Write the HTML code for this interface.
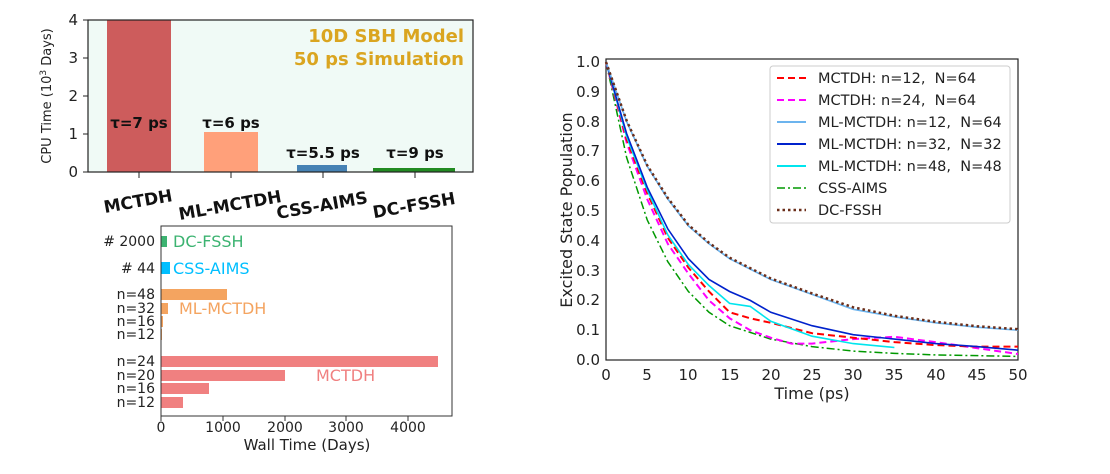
<!DOCTYPE html>
<html><head><meta charset="utf-8"><style>
body{margin:0;background:#fff;}
svg text{font-family:"DejaVu Sans","Liberation Sans",sans-serif;}
</style></head><body>
<svg width="1110" height="469" viewBox="0 0 1110 469" xmlns="http://www.w3.org/2000/svg">
<rect width="1110" height="469" fill="#fff"/>
<!-- Top bar chart -->
<rect x="88" y="20" width="385" height="152" fill="#f0faf6"/>
<rect x="107" y="20" width="64" height="152" fill="#cd5c5c"/>
<rect x="204" y="132" width="54" height="40" fill="#ffa07a"/>
<rect x="297" y="165" width="50" height="7" fill="#4682b4"/>
<rect x="373" y="168" width="82" height="4" fill="#228b22"/>
<rect x="88" y="20" width="385" height="152" fill="none" stroke="#222" stroke-width="1.2"/>
<g font-size="15" fill="#222" text-anchor="end">
<text x="78" y="177">0</text><text x="78" y="139">1</text><text x="78" y="101">2</text><text x="78" y="63">3</text><text x="78" y="25">4</text></g>
<g stroke="#222"><line x1="83" y1="172" x2="88" y2="172"/><line x1="83" y1="134" x2="88" y2="134"/><line x1="83" y1="96" x2="88" y2="96"/><line x1="83" y1="58" x2="88" y2="58"/><line x1="83" y1="20" x2="88" y2="20"/>
<line x1="139" y1="172" x2="139" y2="178"/><line x1="231" y1="172" x2="231" y2="178"/><line x1="323" y1="172" x2="323" y2="178"/><line x1="415" y1="172" x2="415" y2="178"/></g>
<text transform="translate(51,96) rotate(-90)" font-size="13" fill="#222" text-anchor="middle">CPU Time (10<tspan font-size="9" dy="-5">3</tspan><tspan dy="5"> Days)</tspan></text>
<g font-size="18" font-weight="bold" fill="#daa520" text-anchor="end"><text x="464" y="42">10D SBH Model</text><text x="464" y="65">50 ps Simulation</text></g>
<g font-size="15" font-weight="bold" fill="#111" text-anchor="middle">
<text x="139" y="128">τ=7 ps</text><text x="231" y="128">τ=6 ps</text><text x="323" y="158">τ=5.5 ps</text><text x="415" y="158">τ=9 ps</text></g>
<g font-size="17" font-weight="bold" fill="#111" text-anchor="middle">
<text transform="translate(139,207) rotate(-10)">MCTDH</text>
<text transform="translate(231,211) rotate(-10)">ML-MCTDH</text>
<text transform="translate(323,211) rotate(-10)">CSS-AIMS</text>
<text transform="translate(415,211) rotate(-10)">DC-FSSH</text></g>
<!-- Bottom horizontal bars -->
<rect x="161" y="236" width="6" height="11" fill="#3cb371"/>
<rect x="161" y="262" width="9" height="12" fill="#00bfff"/>
<rect x="161" y="289" width="66" height="11" fill="#f4a460"/>
<rect x="161" y="303" width="7" height="11" fill="#f4a460"/>
<rect x="161" y="316" width="2" height="11" fill="#f4a460"/>
<rect x="161" y="329" width="1" height="11" fill="#f4a460"/>
<rect x="161" y="356" width="277" height="11" fill="#f08080"/>
<rect x="161" y="370" width="124" height="11" fill="#f08080"/>
<rect x="161" y="383" width="48" height="11" fill="#f08080"/>
<rect x="161" y="397" width="22" height="11" fill="#f08080"/>
<rect x="161" y="226" width="291" height="190" fill="none" stroke="#333" stroke-width="1"/>
<g font-size="16"><text x="173" y="247" fill="#3cb371">DC-FSSH</text><text x="173" y="274" fill="#00bfff">CSS-AIMS</text><text x="179" y="314" fill="#f4a460">ML-MCTDH</text><text x="316" y="381" fill="#f08080">MCTDH</text></g>
<g font-size="14" fill="#222" text-anchor="end">
<text x="155" y="246"># 2000</text><text x="155" y="273"># 44</text>
<text x="155" y="299">n=48</text><text x="155" y="313">n=32</text><text x="155" y="326">n=16</text><text x="155" y="339">n=12</text>
<text x="155" y="366">n=24</text><text x="155" y="380">n=20</text><text x="155" y="393">n=16</text><text x="155" y="407">n=12</text></g>
<g font-size="14" fill="#222" text-anchor="middle"><text x="161" y="432">0</text><text x="223" y="432">1000</text><text x="285" y="432">2000</text><text x="346" y="432">3000</text><text x="408" y="432">4000</text>
<text x="307" y="450" font-size="15">Wall Time (Days)</text></g>
<g stroke="#333"><line x1="161" y1="416" x2="161" y2="421"/><line x1="223" y1="416" x2="223" y2="421"/><line x1="285" y1="416" x2="285" y2="421"/><line x1="346" y1="416" x2="346" y2="421"/><line x1="408" y1="416" x2="408" y2="421"/></g>
<!-- Right line chart -->
<rect x="606" y="59" width="412" height="301" fill="none" stroke="#222" stroke-width="1.2"/>
<g font-size="15" fill="#222" text-anchor="end">
<text x="600" y="365">0.0</text><text x="600" y="335">0.1</text><text x="600" y="305">0.2</text><text x="600" y="276">0.3</text><text x="600" y="246">0.4</text><text x="600" y="216">0.5</text><text x="600" y="186">0.6</text><text x="600" y="156">0.7</text><text x="600" y="127">0.8</text><text x="600" y="97">0.9</text><text x="600" y="67">1.0</text></g>
<g font-size="15" fill="#222" text-anchor="middle">
<text x="606" y="380">0</text><text x="647" y="380">5</text><text x="688" y="380">10</text><text x="730" y="380">15</text><text x="771" y="380">20</text><text x="812" y="380">25</text><text x="853" y="380">30</text><text x="894" y="380">35</text><text x="936" y="380">40</text><text x="977" y="380">45</text><text x="1018" y="380">50</text>
<text x="812" y="399" font-size="16">Time (ps)</text></g>
<text transform="translate(572,210) rotate(-90)" font-size="16" fill="#222" text-anchor="middle">Excited State Population</text>
<g fill="none" stroke-width="2">
<polyline stroke="#009900" stroke-width="1.5" stroke-dasharray="8,3,2,3" points="606,62 626.6,157.4 647.2,219.9 667.8,261.7 688.4,291.5 709,312.3 729.6,325.7 770.8,339.1 812,346.6 853.2,351.1 894.4,353.4 935.6,354.9 1018,356.4"/>
<polyline stroke="#ff00ff" stroke-dasharray="7,4" points="606,62 626.6,142.5 647.2,199.1 667.8,243.8 688.4,273.6 709,300.4 729.6,318.3 750.2,330.2 770.8,337.7 791.4,343.6 812,343.6 853.2,339.1 894.4,336.8 935.6,342.1 976.8,348.1 1018,354"/>
<polyline stroke="#ff0000" stroke-dasharray="7,4" points="606,62 626.6,139.5 647.2,193.1 667.8,237.8 688.4,267.6 709,291.5 729.6,312.3 750.2,318.3 770.8,322.8 812,333.2 853.2,337.7 894.4,342.1 935.6,345.1 976.8,346.6 1018,346.6"/>
<polyline stroke="#00e5ee" stroke-width="1.6" points="606,62 626.6,136.5 647.2,190.1 667.8,234.8 688.4,264.6 709,285.5 729.6,303.4 750.2,306.4 770.8,321.3 812,336.2 853.2,343.6 894.4,347.5"/>
<polyline stroke="#0022cc" stroke-width="1.6" points="606,62 626.6,133.5 647.2,187.2 667.8,228.9 688.4,258.7 709,279.5 729.6,291.5 750.2,300.4 770.8,312.3 812,325.7 853.2,334.7 894.4,339.1 935.6,343.6 976.8,346.6 1018,350.2"/>
<polyline stroke="#6cb4ee" stroke-width="1.6" points="606,62 626.6,121.6 647.2,166.3 667.8,199 688.4,225.9 709,243.8 729.6,258.7 770.8,279.5 812,294.4 853.2,309.3 894.4,316.8 935.6,322.8 976.8,327.2 1018,330.2"/>
<polyline stroke="#6b2e1a" stroke-width="2.5" stroke-dasharray="2.5,3" points="606,62 626.6,120.6 647.2,165.3 667.8,198 688.4,224.9 709,242.8 729.6,257.7 770.8,278.5 812,293.4 853.2,307.3 894.4,315.8 935.6,321.8 976.8,326.2 1018,329.2"/>
</g>
<rect x="770" y="66" width="240" height="157" fill="#fff" fill-opacity="0.85" stroke="#ccc" rx="3"/>
<g stroke-width="2" fill="none">
<line x1="777" y1="78" x2="806" y2="78" stroke="#ff0000" stroke-dasharray="7,4"/>
<line x1="777" y1="100" x2="806" y2="100" stroke="#ff00ff" stroke-dasharray="7,4"/>
<line x1="777" y1="122" x2="806" y2="122" stroke="#6cb4ee"/>
<line x1="777" y1="144" x2="806" y2="144" stroke="#0022cc"/>
<line x1="777" y1="166" x2="806" y2="166" stroke="#00e5ee"/>
<line x1="777" y1="188" x2="806" y2="188" stroke="#009900" stroke-width="1.5" stroke-dasharray="8,3,2,3"/>
<line x1="777" y1="210" x2="806" y2="210" stroke="#6b2e1a" stroke-width="2.5" stroke-dasharray="2.5,3"/>
</g>
<g font-size="14.5" fill="#222">
<text x="818" y="83">MCTDH: n=12,&#160; N=64</text>
<text x="818" y="105">MCTDH: n=24,&#160; N=64</text>
<text x="818" y="127">ML-MCTDH: n=12,&#160; N=64</text>
<text x="818" y="149">ML-MCTDH: n=32,&#160; N=32</text>
<text x="818" y="171">ML-MCTDH: n=48,&#160; N=48</text>
<text x="818" y="193">CSS-AIMS</text>
<text x="818" y="215">DC-FSSH</text></g>
</svg>
</body></html>
